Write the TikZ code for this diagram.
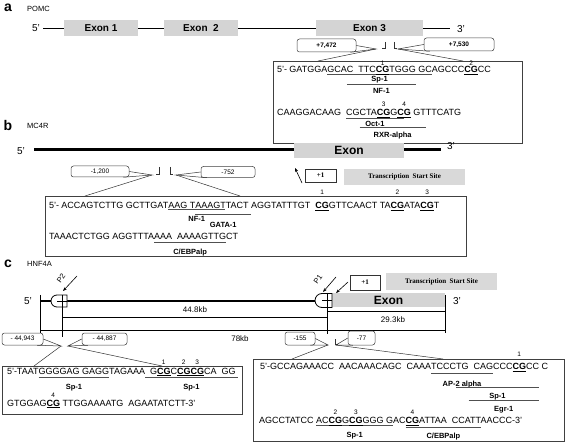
\documentclass[tikz,border=0pt]{standalone}
\usepackage{fontspec}
\setmainfont{Liberation Sans}
\newfontfamily\tssfont{Liberation Serif}
\usetikzlibrary{arrows.meta}
\definecolor{exongray}{HTML}{D4D4D4}
\definecolor{tssgray}{HTML}{D9D9D9}
\definecolor{ulgray}{HTML}{505050}
\definecolor{boxgray}{HTML}{404040}
\newcommand\numfont{\fontsize{6.5}{7}\selectfont}
\newcommand\labfont{\bfseries\fontsize{7.5}{8}\selectfont}
\newcommand\seqfont{\fontsize{9}{10}\selectfont}
% bold underlined CG with a number above
\newcommand\cgn[2]{\setbox2\hbox{\textbf{CG}}\rlap{\hbox to \wd2{\hss\raisebox{#2}[0pt][0pt]{\numfont #1}\hss}}\underline{\box2}}
% underline + label of a binding site, zero width (phantom text gives the length)
\newcommand\tfmark[4]{\setbox0\hbox{#4}\rlap{\color{ulgray}\rule[-#1]{\wd0}{0.7pt}}\rlap{\hbox to \wd0{\hss\raisebox{-#2}[0pt][0pt]{\labfont #3}\hss}}}
\newcommand\tfsite[4]{\tfmark{#1}{#2}{#3}{#4}#4}
\begin{document}
\begin{tikzpicture}[x=1pt,y=-1pt,
  panel/.style={font=\bfseries\fontsize{14}{14}\selectfont, inner sep=0},
  gname/.style={anchor=west, font=\fontsize{7.5}{8}\selectfont, inner sep=0},
  prime/.style={font=\fontsize{10}{10}\selectfont, inner sep=0},
  gene/.style={line width=1.7pt},
  exon/.style={fill=exongray, draw=none, inner sep=0, font=\bfseries\fontsize{10}{10}\selectfont},
  bigexon/.style={exon, font=\bfseries\fontsize{12}{12}\selectfont},
  callout/.style={draw=black!75, fill=white, rounded corners=2.5pt, line width=0.5pt, inner sep=0, font=\fontsize{6.5}{7}\selectfont},
  thinl/.style={line width=0.5pt, draw=black!80},
  seqbox/.style={draw=boxgray, line width=0.6pt, inner sep=0},
  seq/.style={anchor=base west, inner sep=0, outer sep=0, font=\seqfont},
  plusone/.style={draw=black!80, line width=0.5pt, inner sep=0, font=\tssfont\bfseries\fontsize{7}{7}\selectfont},
  tss/.style={fill=tssgray, draw=none, inner sep=0, font=\tssfont\bfseries\fontsize{7}{7}\selectfont},
  dimlab/.style={font=\fontsize{8}{8}\selectfont, inner sep=0},
  plab/.style={font=\fontsize{7.5}{8}\selectfont, rotate=55, inner sep=0},
  ptr/.style={line width=0.6pt, -{Stealth[length=4pt,width=3pt]}},
  vbar/.style={line width=0.9pt},
  dim/.style={line width=0.6pt}
]
\useasboundingbox (0,0) rectangle (567,443);

% ================= panel a =================
\node[panel] (la) at (8,8) {a};
\node[gname] (na) at (27,9) {POMC};
\node[prime] (a5) at (36,28) {5’};
\coordinate (ga0) at (43,28.5);
\coordinate (ga1) at (450,28.5);
\draw[gene] (ga0) -- (ga1);
\node[exon, minimum width=74pt, minimum height=16pt] (ex1) at (101,28.5) {Exon 1};
\node[exon, minimum width=74pt, minimum height=16pt] (ex2) at (201,28.5) {Exon\ \ 2};
\node[exon, minimum width=107pt, minimum height=16pt] (ex3) at (369.5,28.5) {Exon 3};
\node[prime] (a3) at (461,29) {3’};

\node[callout, font=\bfseries\fontsize{6.5}{7}\selectfont, minimum width=59pt, minimum height=13pt] (ca1) at (326.5,45.5) {+7,472};
\node[callout, font=\bfseries\fontsize{6.5}{7}\selectfont, minimum width=70pt, minimum height=13pt] (ca2) at (459,44.5) {+7,530};
\coordinate (ta1) at (376,49);
\coordinate (ta2) at (398,49);
\draw[thinl] (ca1.east) -- (ta1) -- ([xshift=-6pt]ca1.south east);
\draw[thinl] (ca2.west) -- (ta2) -- ([xshift=6pt]ca2.south west);
\coordinate (ba1) at (385,42); \coordinate (ba1b) at (385,48); \coordinate (ba1c) at (382,48);
\coordinate (ba2) at (394,42); \coordinate (ba2b) at (394,48); \coordinate (ba2c) at (397,48);
\draw[thinl] (ba1) -- (ba1b) -- (ba1c);
\draw[thinl] (ba2) -- (ba2b) -- (ba2c);
\coordinate (pa1) at (318,61);
\coordinate (pa2) at (463,61);
\draw[thinl] (ta1) -- (pa1);
\draw[thinl] (ta2) -- (pa2);

\node[seqbox, minimum width=249pt, minimum height=82pt] (boxa) at (397.5,102) {};
\node[seq] (sa1) at (277,72.5) {5'- GATGGA\tfsite{2.5pt}{9.5pt}{Sp-1}{GCA\tfsite{12.5pt}{21pt}{NF-1}{C\ \ TTC\cgn{1}{7pt}TGGG}\ GC}AGCCC\cgn{2}{7pt}CC};
\node[seq] (sa2) at (277,116) {CAAGGACAAG\ \ \tfmark{3pt}{11pt}{Oct-1}{CGCTA\cgn{3}{9pt}GC}CG\tfmark{12pt}{22pt}{RXR-alpha}{CTA\cgn{3}{9pt}G\cgn{4}{9pt}\ GT}CTA\cgn{3}{9pt}G\cgn{4}{9pt}\ GTTTCATG};

% ================= panel b =================
\node[panel] (lb) at (8,125) {b};
\node[gname] (nb) at (27,126) {MC4R};
\node[prime] (b5) at (21,151) {5’};
\coordinate (gb0) at (34,149.5);
\coordinate (gb1) at (441,149.5);
\draw[gene, line width=2.2pt] (gb0) -- (gb1);
\node[bigexon, minimum width=110pt, minimum height=15pt] (exb) at (349,150.5) {Exon};
\node[prime] (b3) at (451,146) {3’};

\node[callout, minimum width=58pt, minimum height=11pt] (cb1) at (100,171.5) {-1,200};
\node[callout, minimum width=54pt, minimum height=11pt] (cb2) at (228,172) {-752};
\coordinate (tb1) at (152,175);
\coordinate (tb2) at (176,175);
\draw[thinl] (cb1.east) -- (tb1) -- ([xshift=-6pt]cb1.south east);
\draw[thinl] (cb2.west) -- (tb2) -- ([xshift=6pt]cb2.south west);
\coordinate (bb1) at (159,167); \coordinate (bb1b) at (159,174); \coordinate (bb1c) at (156,174);
\coordinate (bb2) at (170,167); \coordinate (bb2b) at (170,174); \coordinate (bb2c) at (173,174);
\draw[thinl] (bb1) -- (bb1b) -- (bb1c);
\draw[thinl] (bb2) -- (bb2b) -- (bb2c);
\coordinate (pb1) at (85,196);
\coordinate (pb2) at (240,196);
\draw[thinl] (tb1) -- (pb1);
\draw[thinl] (tb2) -- (pb2);

\coordinate (arb0) at (302,183);
\coordinate (arb1) at (295,168);
\draw[ptr] (arb0) -- (arb1);
\node[plusone, minimum width=31pt, minimum height=13pt] (pob) at (320.5,175.5) {+1};
\node[tss, minimum width=121pt, minimum height=16pt] (tssb) at (404.5,177) {Transcription\ \ Start Site};

\node[seqbox, minimum width=421pt, minimum height=60pt] (boxb) at (255.5,226) {};
\node[seq] (sb1) at (49,208.5) {5'- ACCAGTCTTG GCTTGAT\tfmark{1.5pt}{13.5pt}{NF-1}{AAG TAAAGT}AAG T\tfsite{6pt}{19.5pt}{GATA-1}{AAAGTTACT\ }AGGTATTTGT\ \ \cgn{1}{14pt}GTTCAACT TA\cgn{2}{14pt}ATA\cgn{3}{14pt}T};
\node[seq] (sb2) at (49,239.5) {TAAACTCTGG AGGTTTA\tfsite{3.5pt}{15.5pt}{C/EBPalp}{AAA\ \ AAAAGTTG}CT};

% ================= panel c =================
\node[panel] (lc) at (8,264) {c};
\node[gname] (nc) at (27,264) {HNF4A};
\node[prime] (c5) at (28,301) {5’};

\coordinate (v1a) at (40,295); \coordinate (v1b) at (40,333);
\coordinate (v2a) at (62,295); \coordinate (v2b) at (62,337);
\coordinate (v3a) at (327,293); \coordinate (v3b) at (327,334);
\coordinate (v4a) at (445,295); \coordinate (v4b) at (445,333);
\coordinate (gc0) at (40,301);
\coordinate (gc1) at (316,301);
\draw[gene] (gc0) -- (gc1);
\node[bigexon, minimum width=113pt, minimum height=14pt] (exc) at (388.5,300.5) {Exon};
\node[prime] (c3) at (457,301) {3’};
\draw[vbar] (v1a) -- (v1b);
\draw[vbar] (v4a) -- (v4b);

% promoter symbols
\draw[line width=0.8pt, fill=white] (67,295) -- (57,295) arc[start angle=270, end angle=90, radius=6] -- (67,307) -- cycle;
\draw[line width=0.8pt, fill=white] (332,293.5) -- (322,293.5) arc[start angle=270, end angle=90, radius=7] -- (332,307.5) -- cycle;
\draw[line width=0.8pt] (57,301) -- (67,301);
\draw[line width=0.8pt] (322,300.5) -- (332,300.5);
\draw[vbar] (v2a) -- (v2b);
\draw[vbar] (v3a) -- (v3b);

% P2 / P1 labels and arrows
\node[plab] (p2l) at (61,278) {P2};
\node[plab] (p1l) at (318,279.5) {P1};
\coordinate (p2a) at (77,276); \coordinate (p2b) at (63,291);
\coordinate (p1a) at (336,277); \coordinate (p1b) at (323,292);
\draw[ptr] (p2a) -- (p2b);
\draw[ptr] (p1a) -- (p1b);
\node[plusone, minimum width=30pt, minimum height=15pt] (poc) at (365,282.5) {+1};
\coordinate (poa) at (348,282);
\coordinate (pob2) at (336,293);
\draw[ptr] (poa) -- (pob2);
\node[tss, minimum width=111pt, minimum height=17pt] (tssc) at (441.5,281.5) {Transcription\ \ Start Site};

% dimension lines
\coordinate (d1a) at (327,311); \coordinate (d1b) at (445,311);
\coordinate (d2a) at (62,317); \coordinate (d2b) at (327,317);
\coordinate (d3a) at (40,330); \coordinate (d3b) at (445,330);
\draw[dim] (d1a) -- (d1b);
\draw[dim] (d2a) -- (d2b);
\draw[dim] (d3a) -- (d3b);
\node[dimlab] (k448) at (195,309.5) {44.8kb};
\node[dimlab] (k293) at (393,320) {29.3kb};
\node[dimlab] (k78) at (240,339) {78kb};

% callouts c
\node[callout, minimum width=41pt, minimum height=12pt] (cc1) at (22.5,339) {- 44,943};
\node[callout, minimum width=45pt, minimum height=12pt] (cc2) at (104.5,339) {- 44,887};
\node[callout, minimum width=30pt, minimum height=13pt] (cc3) at (300,338.5) {-155};
\node[callout, minimum width=27pt, minimum height=14pt] (cc4) at (361.5,338) {-77};
\coordinate (tc1) at (61,346);
\coordinate (tc2) at (68,346);
\coordinate (tc3) at (328,345);
\coordinate (tc4) at (336,345);
\draw[thinl] (cc1.east) -- (tc1) -- ([xshift=-6pt]cc1.south east);
\draw[thinl] (cc2.west) -- (tc2) -- ([xshift=6pt]cc2.south west);
\draw[thinl] (cc3.east) -- (tc3) -- ([xshift=-5pt]cc3.south east);
\draw[thinl] (cc4.west) -- (tc4) -- ([xshift=5pt]cc4.south west);
\coordinate (bc1) at (335,339); \coordinate (bc1b) at (335,344); \coordinate (bc1c) at (338,344);
\draw[thinl] (bc1) -- (bc1b) -- (bc1c);
\coordinate (pc1) at (34,366);
\coordinate (pc2) at (162,366);
\coordinate (pc3) at (292,359);
\coordinate (pc4) at (443,359);
\draw[thinl] (tc1) -- (pc1);
\draw[thinl] (tc2) -- (pc2);
\draw[thinl] (tc3) -- (pc3);
\draw[thinl] (tc4) -- (pc4);

\node[seqbox, minimum width=240pt, minimum height=48pt] (boxc1) at (122,390) {};
\node[seq] (sc1) at (7,374) {5'-TAAT\tfsite{4pt}{15pt}{Sp-1}{GGGGAG GAGG}TAGAAA\tfsite{4pt}{15pt}{Sp-1}{\ \ G\cgn{1}{10pt}C\cgn{2}{10pt}\cgn{3}{10pt}CA\ \ GG\ }};
\node[seq] (sc2) at (7,406) {GTGGAG\cgn{4}{9pt}\ TTGGAAAATG\ \ AGAATATCTT-3'};

\node[seqbox, minimum width=311pt, minimum height=82pt] (boxc2) at (408.5,400) {};
\node[seq] (sc3) at (260,369.5) {5'-GCCAGAAACC\ \ AACAAACAGC\ \ CAAA\tfsite{4.5pt}{16.5pt}{AP-2 alpha}{TCCC\tfmark{18.5pt}{28.5pt}{Sp-1}{TG\ \ CAGCCC\cgn{1}{13pt}CC}TG\tfmark{31.5pt}{42pt}{Egr-1}{\ \ CAGCCC\cgn{1}{13pt}CC}\ \ CAG}CCC\cgn{1}{13pt}CC\ C};
\node[seq] (sc4) at (259,423.5) {AGCCTATCC\ \tfsite{2pt}{13.5pt}{Sp-1}{AC\cgn{2}{9pt}G\cgn{3}{9pt}GGG\ G}AC\tfsite{4.5pt}{14.5pt}{C/EBPalp}{\cgn{4}{9pt}ATTAA\ \ CCATT}AACCC-3'};
\end{tikzpicture}
\end{document}
